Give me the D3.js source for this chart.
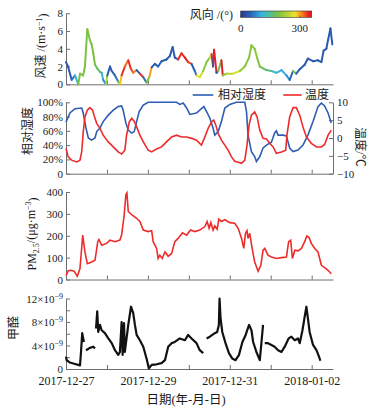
<!DOCTYPE html>
<html>
<head>
<meta charset="utf-8">
<script src="https://cdn.jsdelivr.net/npm/d3@7"></script>
<style>
  body { margin: 0; background: #fff; }
  text { font-family: "Liberation Serif", "Noto Sans CJK SC", serif; fill: #1a1a1a; }
  .axis path, .axis line { stroke: #6e6e6e; stroke-width: 1; }
  .axis text { font-size: 11px; }
</style>
</head>
<body>
<div id="chart"></div>
<script>
// Czas w godzinach od 2017-12-27 00:00
var windHours = [0, 1.2, 3.3, 5.3, 7.2, 8.2, 10, 11.1, 11.7, 12.5, 14, 15, 16, 17, 18.3, 19.9, 20.9, 21.8, 23.4,
  24.2, 25.8, 26.8, 28.7, 30.6, 31.6, 32.6, 34.5, 36.5, 37.9, 39.4, 41.4, 43.3, 45.3, 47.2, 48.8,
  50.2, 52.1, 54, 56, 58.9, 60.9, 62.5, 63.8, 65.7, 67.7, 69.7, 71.6, 73.6, 75.5, 76.5, 78.4,
  80.4, 82.4, 84.3, 85.3, 86.2, 86.8, 88.2, 89.2, 91.1, 91.9, 94.1, 97.9, 101.9, 104.8, 107.3,
  108.7, 110.6, 112, 113.6, 115.5, 117.5, 120.4, 123.3, 126.3, 129.2, 131.1, 133.1, 135, 137,
  139.9, 141.8, 144.8, 147.7, 149.7, 151, 152.6, 153.6, 155, 156.1];
var windSpeed = [2.5, 2.0, 0.5, 1.0, 0.0, 1.2, 1.0, 2.0, 3.9, 6.2, 5.0, 4.5, 3.5, 2.2, 1.8, 1.4, 1.3, 0.5, 0.0,
  1.0, 2.0, 1.5, 1.0, 0.3, 0.0, 1.0, 2.0, 2.7, 1.8, 1.3, 1.6, 1.2, 0.8, 0.2, 0.8,
  1.9, 2.3, 2.0, 2.6, 2.8, 3.2, 4.2, 3.0, 2.8, 3.5, 3.0, 2.5, 2.3, 1.5, 1.0, 0.8,
  1.5, 2.5, 3.0, 3.4, 2.0, 3.9, 1.3, 1.5, 2.7, 1.0, 1.2, 1.2, 1.5, 2.0, 3.0,
  4.4, 4.0, 3.0, 2.0, 1.8, 1.6, 1.5, 1.3, 1.6, 1.0, 0.5, 1.5, 1.2, 1.7,
  2.2, 2.9, 2.6, 2.7, 2.5, 3.8, 4.0, 5.0, 6.3, 4.5];
var windDir = [40, 40, 60, 110, 190, 190, 190, 190, 190, 190, 190, 190, 190, 180, 170, 150, 110, 80, 230,
  40, 40, 40, 60, 200, 290, 340, 320, 340, 330, 310, 40, 340, 60, 190, 300,
  40, 40, 50, 40, 40, 40, 40, 40, 340, 340, 345, 330, 40, 60, 270, 260,
  200, 200, 260, 340, 40, 345, 40, 180, 345, 200, 240, 260, 210, 200, 200,
  200, 200, 195, 190, 170, 160, 120, 110, 100, 80, 50, 190, 50, 40,
  40, 40, 40, 40, 40, 40, 40, 40, 40, 40];

var rhHours = [0, 2.3, 5.3, 9.2, 10.1, 11.7, 13.1, 15, 17, 18, 19.9, 21.8, 24.8, 27.7, 30.6, 32.6, 33.5, 35.1,
  36.5, 38.5, 40, 41.4, 42.9, 45.3, 48.2, 55, 60.9, 64.8, 66.7, 68.7, 70.7, 72.6, 76.5, 79.4, 80.8,
  82.4, 84.3, 86.2, 87.2, 89.2, 91.1, 93.1, 96, 99.9, 104.8, 105.8, 106.7, 108.7, 110.6, 111.6,
  113.6, 115.5, 117.5, 120.4, 122.3, 123.3, 124.3, 127.2, 129.2, 131.1, 133.1, 136, 138.9, 141.8,
  144.8, 147.7, 149.7, 151.6, 153.6, 155.5];
var rhValues = [72, 85, 91, 92, 85, 64, 50, 47, 50, 59, 64, 73, 82, 89, 94, 95, 89, 71,
  61, 57, 59, 73, 87, 96, 100, 100, 100, 100, 97, 99, 92, 83, 85, 91, 94,
  87, 78, 64, 54, 59, 73, 92, 97, 100, 100, 87, 54, 31, 24, 17,
  24, 36, 40, 44, 57, 60, 54, 54, 53, 36, 31, 33, 40, 54,
  73, 94, 99, 95, 85, 71];

var tHours = [0, 1.3, 3.3, 6.3, 8.2, 9.2, 10.1, 11.1, 12.5, 14, 15.6, 17, 18, 19.9, 21.8, 24.8, 27.7, 30.6,
  32.6, 34.5, 35.5, 37.1, 38.5, 40, 41.4, 43.3, 45.3, 48.2, 50.2, 53.1, 56, 58.9, 61.9, 64.8, 67.7,
  70.7, 73.6, 76.5, 79.4, 81.4, 83.3, 85.3, 86.6, 87.8, 89.2, 91.1, 93.1, 95, 97, 98.9, 100.9,
  102.9, 104.8, 106.1, 107.3, 108.7, 110.6, 112, 113.6, 115.5, 117.5, 119.4, 121.4, 123.3, 126.3,
  128.8, 129.5, 131.1, 133.1, 135, 137, 138.9, 140.9, 143.8, 146.8, 149.7, 151.6, 153.6, 155.5];
var tValues = [-2.9, -5.3, -6.2, -6.7, -6.2, -3.9, 1.7, 5.9, 7.8, 8.5, 7.8, 5.5, 4.1, 2.7, 0.8, -1.1, -2.5, -3.9,
  -4.5, -3.4, 0.8, 4.5, 5.5, 4.7, 3.1, 0.8, -1.1, -3.4, -3.9, -3.1, -2.5, -1.1, 0.3, 0.8, 0.3,
  0.3, -0.1, -0.6, -2.0, 0.3, 2.7, 4.5, 5.0, 3.6, 1.3, -0.6, -2.0, -3.4, -5.3, -6.5, -6.8,
  -7.1, -6.2, -2.0, 3.6, 6.4, 7.3, 5.9, 2.2, -0.1, -0.3, -1.5, -2.5, -4.3, -3.9,
  -3.4, 0.8, 5.9, 8.5, 8.5, 6.4, 3.1, 0.3, -1.5, -2.5, -2.5, -1.8, 0.8, 2.2];

var pmHours = [0, 1.3, 2.9, 4.7, 6.6, 8.2, 9.8, 11.1, 12.5, 15, 17, 18.6, 19.3, 20.9, 23.8, 25.8, 28.7, 31.6,
  32.6, 34, 35.1, 35.7, 36.5, 38.5, 41.4, 43.3, 45.3, 48.2, 50.2, 51.1, 53.1, 54, 55, 56.4, 58,
  59.9, 61.9, 63.8, 65.7, 68.3, 70.7, 73, 75.5, 78.4, 81.4, 82.7, 83.9, 84.9, 86.2, 87.2, 88.6,
  89.6, 91.1, 93.1, 96, 98.9, 100.9, 102.9, 104.2, 105.2, 106.1, 106.7, 107.7, 109.1, 110.6,
  112.6, 114.2, 115.5, 116.5, 118.4, 120.4, 123.3, 126.3, 129.2, 130.5, 131.7, 132.7, 134.1,
  136, 138, 139.9, 141.2, 142.4, 143.8, 145.8, 147.7, 149.7, 151.6, 153.6, 155.5];
var pmValues = [18, 40, 42, 38, 15, 50, 203, 126, 72, 80, 88, 173, 183, 157, 165, 180, 173, 180,
  203, 288, 388, 396, 311, 296, 280, 265, 226, 219, 223, 173, 142, 96, 111, 96, 126,
  106, 119, 173, 188, 214, 203, 226, 219, 226, 242, 265, 234, 260, 226, 245, 230,
  276, 265, 273, 260, 257, 234, 188, 142, 211, 223, 188, 211, 142, 80,
  38, 65, 134, 142, 111, 103, 96, 100, 103, 173, 180, 96, 134,
  131, 142, 173, 199, 193, 165, 142, 126, 65, 54, 42, 26];

// Formaldehyd w jednostkach 1e-9, null = przerwa w pomiarach
var hchoHours = [0, 0.4, 2.3, 5.3, 7.2, 8.2, 8.8, 9.5, 10.1, 10.5, 10.8, 11.7, 14, 16, 17, 17.3,
  17.6, 18.3, 18.9, 19.9, 20.9, 22.8, 24.8, 26.8, 28.7, 30.6, 31.6, 32.6, 33.2, 34, 34.5, 36.5,
  38.1, 39.4, 40.4, 41.4, 43.3, 45.3, 47.2, 48.6, 50.2, 53.1, 56, 58, 59.9, 61.9, 63.8, 66.7,
  69.7, 71.6, 73.6, 76.5, 78.4, 80.4, 81.4, 82.4, 84.3, 87.2, 88.6, 89.6, 90, 90.6, 91.6, 93.5,
  95.5, 97.4, 99.4, 101.4, 103.4, 105.3, 107.3, 108.7, 109.7, 111.6, 113.6, 114.6, 115.5, 116,
  116.5, 118.4, 120.4, 122.3, 124.3, 126.3, 128.2, 130.5, 132.1, 134.1, 136, 137, 138.6, 139.9,
  140.9, 141.8, 142.8, 144.8, 146.8, 148.3, 149.1];
var hchoValues = [2.1, 1.5, 1.1, 0.85, 0.7, 0.6, 2.9, 6.1, 5.2, 4.6, null, 3.2, 3.6, 3.8, 3.5, null,
  6.9, 9.8, 6.3, 7.5, 6.6, 6.1, 5.2, 4.4, 3.2, 2.4, 2.9, 8.0, 2.4, 7.8, 2.9, 7.5,
  10.6, 9.5, 7.5, 5.8, 4.9, 3.8, 1.8, 0.1, 0.7, 0.8, 1.0, 1.5, 3.8, 4.4, 4.6, 5.2,
  4.9, 5.8, 5.2, 4.4, 3.2, 2.7, null, 5.2, 5.5, 6.1, 6.3, 7.5, 12.0, 8.6, 6.3, 4.4,
  2.7, 1.8, 1.5, 2.4, 4.6, 5.8, 7.5, 6.6, 4.6, 2.9, 1.5, 4.6, 7.5, null,
  4.4, 4.4, 4.1, 3.8, 3.2, 2.9, 3.8, 5.2, 5.5, 4.9, 5.2, 4.4, 6.6, 8.9,
  10.6, 8.6, 6.3, 4.1, 3.2, 2.1, 1.4];

var dateLabels = ["2017-12-27", "2017-12-29", "2017-12-31", "2018-01-02"];

// Pomocnicze
var start = new Date(2017, 11, 27, 0, 0);
function toDate(h) { return new Date(start.getTime() + h * 3600000); }
function zip(hours, vals) { return hours.map(function(h, i) { return { t: toDate(h), v: vals[i] }; }); }

var width = 373, height = 411;
var svg = d3.select("#chart").append("svg")
  .attr("width", width).attr("height", height);

var x = d3.scaleTime()
  .domain([start, new Date(2018, 0, 2, 12, 30)])
  .range([66, 333]);

var yWind = d3.scaleLinear().domain([0, 8]).range([84.3, 13.3]);
var yRh = d3.scaleLinear().domain([0, 100]).range([173.7, 102.3]);
var yT = d3.scaleLinear().domain([-10, 10]).range([173.7, 102.3]);
var yPm = d3.scaleLinear().domain([0, 400]).range([279.5, 192]);
var yHcho = d3.scaleLinear().domain([0, 12]).range([369, 298.5]);

// Paleta kierunku wiatru
var dirColor = d3.scaleLinear()
  .domain([0, 50, 105, 145, 190, 245, 275, 305, 345, 360])
  .range(["#2d3590", "#2b64b8", "#35b3e4", "#4dbd9a", "#7cc242", "#bfd631", "#f2e529", "#f7941d", "#ec1c24", "#e41f26"]);

var days = d3.timeDay.range(start, new Date(2018, 0, 3));

// Osie X
function xAxis(yPos, labels) {
  var ax = d3.axisBottom(x).tickValues(days).tickSizeInner(-4).tickSizeOuter(0).tickPadding(7)
    .tickFormat(function(d) {
      if (!labels) return "";
      var s = d3.timeFormat("%Y-%m-%d")(d);
      return dateLabels.indexOf(s) >= 0 ? s : "";
    });
  var g = svg.append("g").attr("class", "axis").attr("transform", "translate(0," + yPos + ")").call(ax);
  g.selectAll("text").style("font-size", "12px");
  return g;
}
xAxis(84.3, false);
xAxis(173.7, false);
xAxis(279.5, false);
xAxis(369, true);

// Osie Y
function yAxis(scale, vals, fmt) {
  return svg.append("g").attr("class", "axis").attr("transform", "translate(66,0)")
    .call(d3.axisLeft(scale).tickValues(vals).tickSizeInner(-4).tickSizeOuter(0).tickPadding(3).tickFormat(fmt));
}
yAxis(yWind, [0, 2, 4, 6, 8], d3.format("d"));
yAxis(yRh, [0, 20, 40, 60, 80, 100], function(d) { return d === 0 ? "0" : d + "%"; });
yAxis(yPm, [0, 100, 200, 300, 400], d3.format("d"));
var hAx = yAxis(yHcho, [0, 2, 4, 6, 8, 10, 12], function(d) { return d === 0 ? "0" : ""; });
hAx.selectAll(".tick text").each(function(d) {
  if (d > 0 && d % 4 === 0) {
    var t = d3.select(this);
    t.append("tspan").text(d + "×10");
    t.append("tspan").attr("dy", "-0.45em").style("font-size", "8px").text("−9");
  }
});

svg.append("g").attr("class", "axis").attr("transform", "translate(333,0)")
  .call(d3.axisRight(yT).tickValues([-10, -5, 0, 5, 10]).tickSizeInner(-4).tickSizeOuter(0).tickPadding(4)
    .tickFormat(d3.format("d")));

// Prędkość wiatru – odcinki kolorowane kierunkiem
var wind = windHours.map(function(h, i) { return { t: toDate(h), v: windSpeed[i], d: windDir[i] }; });
svg.append("g").selectAll("line")
  .data(wind.slice(0, -1))
  .join("line")
    .attr("x1", function(d) { return x(d.t); })
    .attr("y1", function(d) { return yWind(d.v); })
    .attr("x2", function(d, i) { return x(wind[i + 1].t); })
    .attr("y2", function(d, i) { return yWind(wind[i + 1].v); })
    .attr("stroke", function(d) { return dirColor(d.d); })
    .attr("stroke-width", 2)
    .attr("stroke-linecap", "round");

// Wilgotność i temperatura
svg.append("path").datum(zip(rhHours, rhValues))
  .attr("fill", "none").attr("stroke", "#2f5db3").attr("stroke-width", 1.6)
  .attr("d", d3.line().x(function(d) { return x(d.t); }).y(function(d) { return yRh(d.v); }));
svg.append("path").datum(zip(tHours, tValues))
  .attr("fill", "none").attr("stroke", "#ee2b2b").attr("stroke-width", 1.6)
  .attr("d", d3.line().x(function(d) { return x(d.t); }).y(function(d) { return yT(d.v); }));

// PM2.5
svg.append("path").datum(zip(pmHours, pmValues))
  .attr("fill", "none").attr("stroke", "#ee2b2b").attr("stroke-width", 1.6)
  .attr("d", d3.line().x(function(d) { return x(d.t); }).y(function(d) { return yPm(d.v); }));

// Formaldehyd
svg.append("path").datum(zip(hchoHours, hchoValues))
  .attr("fill", "none").attr("stroke", "#111").attr("stroke-width", 2.2).attr("stroke-linejoin", "round")
  .attr("d", d3.line().defined(function(d) { return d.v !== null; })
    .x(function(d) { return x(d.t); }).y(function(d) { return yHcho(d.v); }));

// Pasek kolorów kierunku wiatru
var grad = svg.append("defs").append("linearGradient").attr("id", "dirGrad");
d3.range(0, 361, 15).forEach(function(v) {
  grad.append("stop").attr("offset", (v / 360 * 100) + "%").attr("stop-color", dirColor(v));
});
var cb = d3.scaleLinear().domain([0, 360]).range([240.7, 311.7]);
svg.append("rect").attr("x", cb(0)).attr("y", 11).attr("width", cb(360) - cb(0)).attr("height", 6.3)
  .attr("fill", "url(#dirGrad)").attr("stroke", "#333").attr("stroke-width", 0.6);
[0, 300].forEach(function(v) {
  svg.append("line").attr("x1", cb(v)).attr("x2", cb(v)).attr("y1", 17.3).attr("y2", 15.5)
    .attr("stroke", "#333").attr("stroke-width", 0.6);
  svg.append("text").attr("x", cb(v)).attr("y", 28).attr("dy", "0.35em")
    .attr("text-anchor", "middle").style("font-size", "11px").text(v);
});
svg.append("text").attr("x", 233).attr("y", 15).attr("dy", "0.35em").attr("text-anchor", "end")
  .style("font-size", "12px").text("风向 /(°)");

// Legenda wilgotności/temperatury
svg.append("line").attr("x1", 192.7).attr("x2", 213.3).attr("y1", 95).attr("y2", 95)
  .attr("stroke", "#2f5db3").attr("stroke-width", 1.6);
svg.append("text").attr("x", 218).attr("y", 95).attr("dy", "0.35em").style("font-size", "12px").text("相对湿度");
svg.append("line").attr("x1", 283.3).attr("x2", 301.7).attr("y1", 95).attr("y2", 95)
  .attr("stroke", "#ee2b2b").attr("stroke-width", 1.6);
svg.append("text").attr("x", 305).attr("y", 95).attr("dy", "0.35em").style("font-size", "12px").text("温度");

// Podpisy osi
function rotLabel(cx, cy, angle) {
  return svg.append("text")
    .attr("transform", "translate(" + cx + "," + cy + ") rotate(" + angle + ")")
    .attr("text-anchor", "middle").attr("dy", "0.35em").style("font-size", "12px");
}
var l1 = rotLabel(41, 46, -90);
l1.append("tspan").text("风速 /(m·s");
l1.append("tspan").attr("dy", "-0.45em").style("font-size", "8px").text("−1");
l1.append("tspan").attr("dy", "0.45em").text(")");

rotLabel(28, 131, -90).text("相对湿度");
rotLabel(360, 147, 90).text("温度/℃");

var l3 = rotLabel(32, 234, -90);
l3.append("tspan").text("PM");
l3.append("tspan").attr("dy", "0.35em").style("font-size", "8px").text("2.5");
l3.append("tspan").attr("dy", "-0.35em").text("/(μg·m");
l3.append("tspan").attr("dy", "-0.45em").style("font-size", "8px").text("−3");
l3.append("tspan").attr("dy", "0.45em").text(")");

rotLabel(14, 328, -90).text("甲醛");

svg.append("text").attr("x", 186).attr("y", 400).attr("dy", "0.35em").attr("text-anchor", "middle")
  .style("font-size", "12.5px").text("日期(年-月-日)");
</script>
</body>
</html>
